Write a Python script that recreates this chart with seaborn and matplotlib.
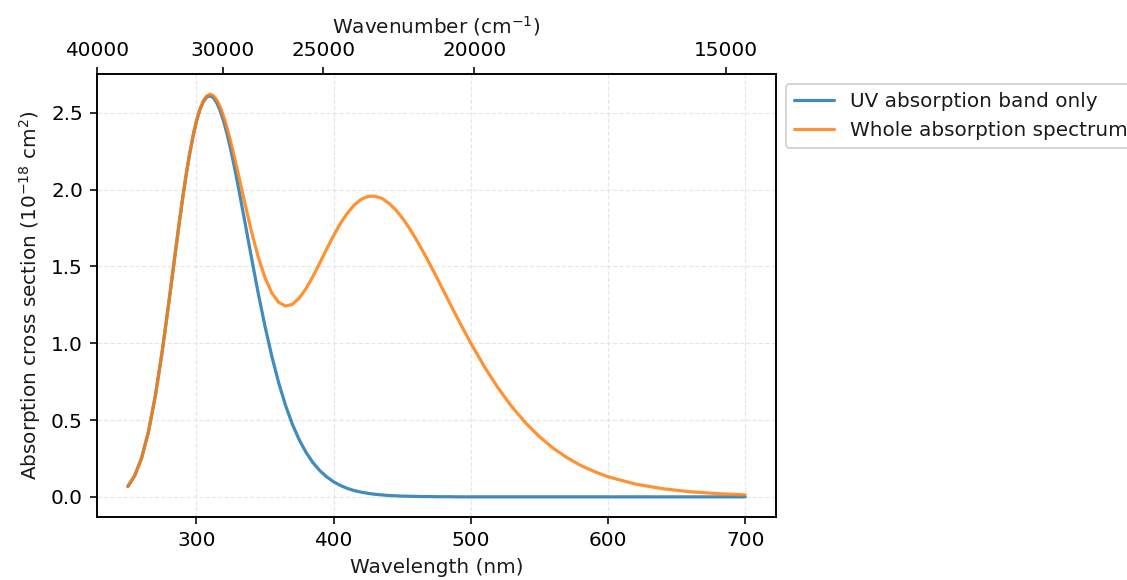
import matplotlib
matplotlib.use("Agg")
import matplotlib.pyplot as plt
import seaborn as sns
import pandas as pd

# Wavelength grid (nm)
wavelength = [250, 255, 260, 265, 270, 275, 280, 285, 287.5, 290, 292.5, 295, 297.5,
              300, 302.5, 305, 307.5, 310, 312.5, 315, 317.5, 320, 322.5, 325, 327.5,
              330, 335, 340, 345,
              350, 355, 360, 365, 370, 375, 380, 385, 390, 395,
              400, 405, 410, 415, 420, 425, 430, 435, 440, 445,
              450, 455, 460, 465, 470, 475, 480, 485, 490, 495,
              500, 510, 520, 530, 540, 550, 560, 570, 580, 590,
              600, 620, 640, 660, 680, 700]

# Absorption cross section of the UV band alone (1e-18 cm^2)
uv_band = [0.068, 0.138, 0.252, 0.423, 0.656, 0.944, 1.274, 1.617, 1.786, 1.947, 2.096, 2.230, 2.347,
           2.444, 2.519, 2.572, 2.602, 2.610, 2.596, 2.561, 2.508, 2.439, 2.355, 2.259, 2.154,
           2.042, 1.804, 1.562, 1.327,
           1.109, 0.913, 0.741, 0.594, 0.471, 0.370, 0.288, 0.222, 0.170, 0.130,
           0.098, 0.074, 0.055, 0.041, 0.031, 0.023, 0.017, 0.013, 0.009, 0.007,
           0.005, 0.004, 0.003, 0.002, 0.002, 0.001, 0.001, 0.001, 0.000, 0.000,
           0.000, 0.000, 0.000, 0.000, 0.000, 0.000, 0.000, 0.000, 0.000, 0.000,
           0.000, 0.000, 0.000, 0.000, 0.000, 0.000]

# Absorption cross section of the whole spectrum (1e-18 cm^2)
whole_spectrum = [0.068, 0.138, 0.252, 0.423, 0.656, 0.944, 1.274, 1.617, 1.786, 1.948, 2.097, 2.231, 2.349,
                  2.447, 2.523, 2.578, 2.610, 2.621, 2.610, 2.580, 2.533, 2.471, 2.396, 2.311, 2.218,
                  2.122, 1.923, 1.732, 1.563,
                  1.426, 1.326, 1.265, 1.242, 1.253, 1.294, 1.357, 1.435, 1.523, 1.614,
                  1.700, 1.780, 1.846, 1.899, 1.936, 1.955, 1.957, 1.943, 1.913, 1.871,
                  1.816, 1.752, 1.679, 1.600, 1.517, 1.431, 1.343, 1.255, 1.168, 1.083,
                  1.000, 0.846, 0.707, 0.586, 0.481, 0.392, 0.317, 0.256, 0.205, 0.165,
                  0.131, 0.083, 0.053, 0.033, 0.021, 0.013]

series_labels = ["UV absorption band only", "Whole absorption spectrum"]

# Wavenumber ticks for the top axis (cm^-1)
wavenumber_ticks = [40000, 30000, 25000, 20000, 15000]
wavelength_ticks = [300, 400, 500, 600, 700]

sns.set_style("ticks")
plt.rcParams["font.family"] = ["DejaVu Sans"]
plt.rcParams["axes.edgecolor"] = "black"
plt.rcParams["xtick.color"] = "black"
plt.rcParams["ytick.color"] = "black"
plt.rcParams["text.color"] = "#1a1a1a"
plt.rcParams["axes.labelcolor"] = "#1a1a1a"

df = pd.concat([
    pd.DataFrame({"wavelength": wavelength, "sigma": uv_band, "series": series_labels[0]}),
    pd.DataFrame({"wavelength": wavelength, "sigma": whole_spectrum, "series": series_labels[1]}),
])

DPI = 144
fig = plt.figure(figsize=(1127 / DPI, 580 / DPI), dpi=DPI)
ax = fig.add_axes([97 / 1127, 63 / 580, 679 / 1127, 443 / 580])

palette = {series_labels[0]: "#1f77b4", series_labels[1]: "#ff7f0e"}
sns.lineplot(data=df, x="wavelength", y="sigma", hue="series", palette=palette,
             linewidth=1.6, alpha=0.85, ax=ax, sort=False)

ax.set_xticks(wavelength_ticks)
ax.set_xlabel("Wavelength (nm)")
ax.set_ylabel(r"Absorption cross section ($10^{-18}$ cm$^2$)")
ax.grid(True, linestyle="--", color="#dddddd", linewidth=0.6, alpha=0.7)

handles, labels = ax.get_legend_handles_labels()
ax.legend(handles, labels, loc="upper left", bbox_to_anchor=(1.0, 1.0),
          frameon=True, framealpha=0.8, edgecolor="#cccccc", fancybox=True)

# Secondary axis labelled in wavenumber
top = ax.twiny()
top.set_xlim(min(wavelength), max(wavelength))
top.set_xticks([1e7 / w for w in wavenumber_ticks])
top.set_xticklabels([str(w) for w in wavenumber_ticks])
top.set_xlabel(r"Wavenumber (cm$^{-1}$)")

fig.savefig("out.png", dpi=DPI)
